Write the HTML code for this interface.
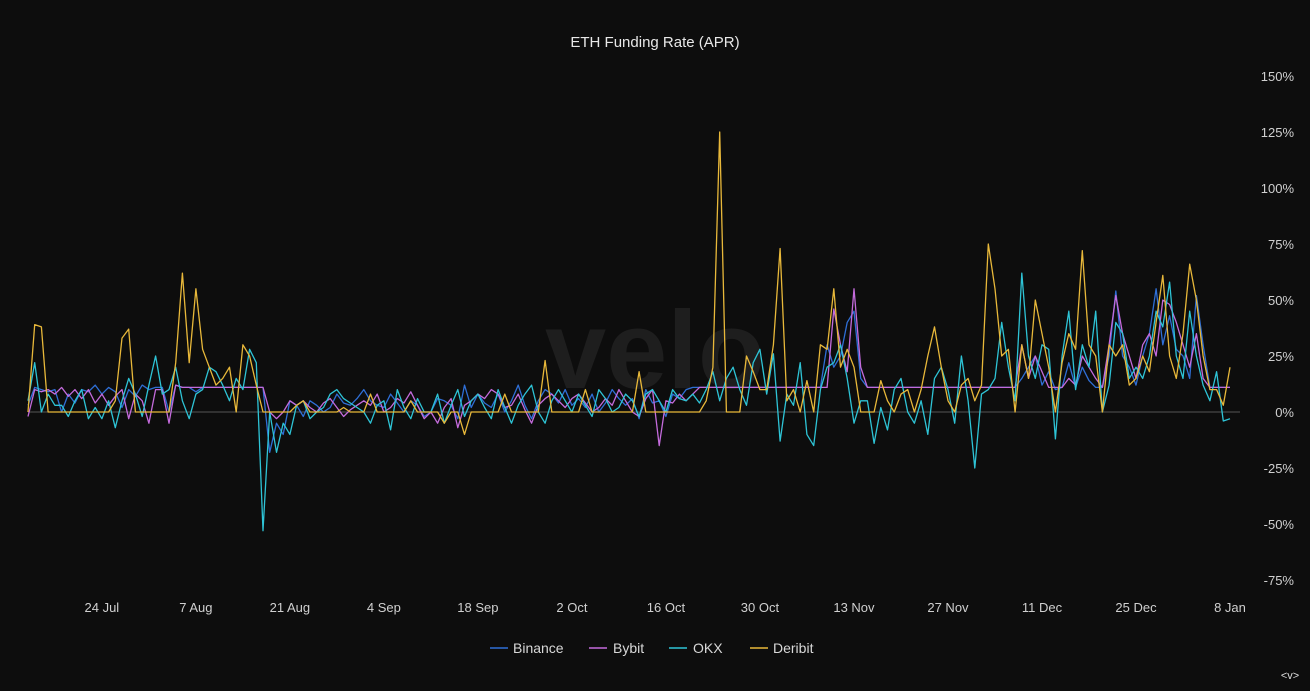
<!DOCTYPE html>
<html><head><meta charset="utf-8"><style>
html,body{margin:0;padding:0;background:#0d0d0d;}
body{width:1310px;height:686px;overflow:hidden;font-family:"Liberation Sans",sans-serif;}
svg text{font-family:"Liberation Sans",sans-serif;}
</style></head><body>
<svg id="chart" width="1310" height="686" viewBox="0 0 1310 686" xmlns="http://www.w3.org/2000/svg">
<rect width="1310" height="686" fill="#0d0d0d"/>
<text x="655" y="47" text-anchor="middle" fill="#e8e8e8" font-size="15">ETH Funding Rate (APR)</text>
<text x="655" y="388" text-anchor="middle" fill="#1e1e1e" font-size="110" font-weight="bold">velo</text>
<g id="grid"></g><g id="series"></g><g id="axes"></g>
<g font-size="14" fill="#d8d8d8">
 <g><line x1="490" y1="648" x2="508" y2="648" stroke="#2f6fd6" stroke-width="1.5"/><text x="513" y="653">Binance</text></g>
 <g><line x1="589" y1="648" x2="607" y2="648" stroke="#c46bdc" stroke-width="1.5"/><text x="613" y="653">Bybit</text></g>
 <g><line x1="669" y1="648" x2="687" y2="648" stroke="#2ec4d6" stroke-width="1.5"/><text x="693" y="653">OKX</text></g>
 <g><line x1="750" y1="648" x2="768" y2="648" stroke="#e8b83a" stroke-width="1.5"/><text x="773" y="653">Deribit</text></g>
</g>
<text x="1290" y="679" text-anchor="middle" fill="#ddd" font-size="11">&lt;v&gt;</text>
</svg>
<script>
const xTickLabels=["24 Jul","7 Aug","21 Aug","4 Sep","18 Sep","2 Oct","16 Oct","30 Oct","13 Nov","27 Nov","11 Dec","25 Dec","8 Jan"];
const xTickDays=[11,25,39,53,67,81,95,109,123,137,151,165,179];
const yTicks=[150,125,100,75,50,25,0,-25,-50,-75];
const deribit=[0,39,38,0,0,0,0,0,0,0,
0,0,0,5,33,37,0,0,0,0,
0,0,22,62,22,55,28,20,12,15,
20,0,30,25,12,0,0,0,0,0,
3,5,0,0,0,0,0,2,0,0,
0,8,0,0,0,0,0,5,0,0,
0,0,-5,0,0,-10,0,0,0,0,
0,8,0,0,0,0,0,23,0,0,
0,0,0,10,0,0,0,0,0,0,
0,18,0,0,0,0,0,0,0,0,
0,5,20,125,0,0,0,25,18,10,
10,30,73,5,10,0,14,0,30,28,
55,20,28,20,0,0,0,14,5,0,
8,10,0,10,25,38,20,5,0,12,
15,5,12,75,55,25,28,0,30,15,
50,35,20,0,22,35,28,72,30,25,
0,30,25,30,12,15,25,18,40,61,
25,15,35,66,50,25,10,10,3,20];
const bybit=[-2,10,9,10,8,11,7,10,6,10,
4,8,3,7,10,-3,8,5,-5,10,
10,-5,12,11,11,11,11,11,11,11,
11,11,11,11,11,11,0,-3,0,5,
3,5,2,0,4,6,2,-2,1,3,
5,3,8,0,2,6,4,9,3,-3,
0,-5,2,6,-7,3,5,8,6,10,
8,2,3,8,1,-5,3,6,8,5,
2,6,8,4,0,2,6,3,10,5,
0,-2,6,10,-15,5,4,8,5,8,
11,11,11,11,11,11,11,11,11,11,
11,11,11,11,11,11,11,11,11,11,
46,30,18,55,20,11,11,11,11,11,
11,11,11,11,11,11,11,11,11,11,
11,11,11,11,11,11,11,11,30,15,
25,18,11,11,11,15,12,25,20,15,
11,30,52,35,25,15,30,35,25,50,
48,40,30,20,35,15,11,11,11,11];
const binance=[3,11,10,9,10,0,8,4,10,9,
12,8,11,9,2,10,7,12,10,11,
11,0,12,11,11,9,11,11,11,11,
11,11,11,11,11,11,-18,-5,-10,5,
3,-2,5,3,0,2,8,4,3,6,
10,5,3,2,8,4,0,5,3,-2,
0,6,5,3,-3,12,2,8,4,2,
8,0,5,12,3,-3,5,10,8,4,
10,3,6,2,8,0,4,10,6,3,
6,-3,10,4,5,-2,8,6,10,11,
11,11,11,11,11,11,11,11,11,11,
11,11,11,11,11,11,11,11,11,30,
20,25,40,45,15,11,11,11,11,11,
11,11,11,11,11,11,11,11,11,11,
11,11,11,11,11,11,11,11,15,20,
25,12,18,10,11,22,11,20,14,11,
11,25,54,25,20,12,25,35,55,30,
43,28,25,15,52,30,11,11,11,11];
const okx=[5,22,0,8,3,3,-2,5,10,-3,
2,-3,5,-7,5,15,8,-2,12,25,
8,10,20,5,-3,8,10,20,18,12,
5,15,10,28,22,-53,0,-18,-5,-10,
3,5,-3,0,2,8,10,6,4,2,
0,-5,3,5,-8,10,2,-3,6,0,
0,8,-5,3,10,-2,5,8,2,-3,
10,2,-5,3,8,12,0,-5,5,10,
5,0,8,3,-2,10,6,0,2,8,
5,-2,8,10,5,0,10,6,5,8,
4,10,18,5,15,20,10,3,22,28,
8,26,-13,8,3,22,-10,-15,10,20,
22,30,15,-5,5,5,-14,2,-8,10,
15,0,-5,5,-10,15,20,10,-5,25,
5,-25,8,10,15,40,20,5,62,25,
15,30,28,-12,25,45,10,30,20,45,
0,12,40,35,15,20,15,25,45,38,
58,25,15,45,25,12,5,18,-4,-3];
const NS='http://www.w3.org/2000/svg';
const x=d=>28+d*(1230-28)/179;
const y=v=>412-v*(412-356)/25;
const grid=document.getElementById('grid'),axes=document.getElementById('axes'),ser=document.getElementById('series');
const zl=document.createElementNS(NS,'line');


zl.setAttribute('x1',28);zl.setAttribute('x2',1240);zl.setAttribute('y1',y(0));zl.setAttribute('y2',y(0));
zl.setAttribute('stroke','#555');zl.setAttribute('stroke-width','1');grid.appendChild(zl);
yTicks.forEach(v=>{const t=document.createElementNS(NS,'text');


t.setAttribute('x',1294);t.setAttribute('y',y(v)+5);t.setAttribute('text-anchor','end');t.setAttribute('fill','#d0d0d0');t.setAttribute('font-size','13');t.textContent=v+'%';axes.appendChild(t);});
xTickLabels.forEach((l,i)=>{const t=document.createElementNS(NS,'text');


t.setAttribute('x',x(xTickDays[i]));t.setAttribute('y',612);t.setAttribute('text-anchor','middle');t.setAttribute('fill','#d0d0d0');t.setAttribute('font-size','13');t.textContent=l;axes.appendChild(t);});
function draw(arr,color,name){const p=document.createElementNS(NS,'polyline');


p.setAttribute('points',arr.map((v,i)=>x(i).toFixed(1)+','+y(v).toFixed(1)).join(' '));
p.setAttribute('fill','none');p.setAttribute('stroke',color);p.setAttribute('stroke-width','1.3');p.setAttribute('stroke-linejoin','round');ser.appendChild(p);}
draw(binance,'#2f6fd6','binance-line');
draw(bybit,'#c46bdc','bybit-line');
draw(okx,'#2ec4d6','okx-line');
draw(deribit,'#e8b83a','deribit-line');
</script>
</body></html>
